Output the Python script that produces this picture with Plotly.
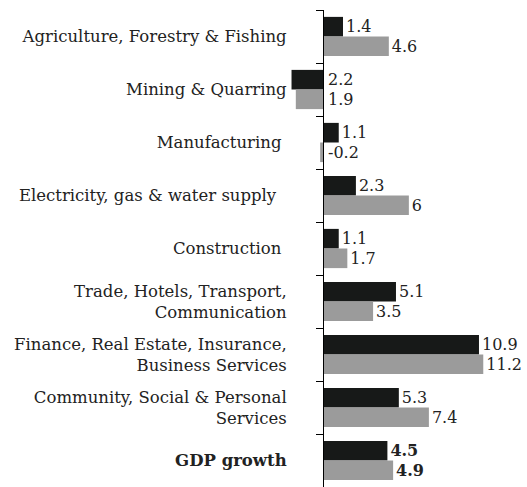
import plotly.graph_objects as go

categories = [
    "Agriculture, Forestry & Fishing",
    "Mining & Quarring",
    "Manufacturing\u00a0",
    "Electricity, gas & water supply\u00a0\u00a0",
    "Construction\u00a0",
    "Trade, Hotels, Transport,<br>Communication",
    "Finance, Real Estate, Insurance,<br>Business Services",
    "Community, Social & Personal<br>Services",
    "<b>GDP growth</b>",
]
series_a = [1.4, -2.2, 1.1, 2.3, 1.1, 5.1, 10.9, 5.3, 4.5]
series_b = [4.6, -1.9, -0.2, 6.0, 1.7, 3.5, 11.2, 7.4, 4.9]
labels_a = ["1.4", "2.2", "1.1", "2.3", "1.1", "5.1", "10.9", "5.3", "<b>4.5</b>"]
labels_b = ["4.6", "1.9", "-0.2", "6", "1.7", "3.5", "11.2", "7.4", "<b>4.9</b>"]

FONT = "DejaVu Serif"
TXT = "#222222"
BLACK = "#171918"
GRAY = "#9b9b9b"

W, H = 527, 487
ML, MR, MT, MB = 290, 2, 10, 0
ZERO_PX = 323
PX_PER_UNIT = 14.31
xmin = -(ZERO_PX - ML) / PX_PER_UNIT
xmax = xmin + (W - ML - MR) / PX_PER_UNIT
zero_pos = (0 - xmin) / (xmax - xmin)

fig = go.Figure()
for vals, labs, color, name in [
    (series_a, labels_a, BLACK, "Series A"),
    (series_b, labels_b, GRAY, "Series B"),
]:
    fig.add_trace(go.Bar(
        y=categories, x=vals, orientation="h", name=name,
        marker=dict(color=color, line=dict(width=0)),
        text=[l if v >= 0 else "" for v, l in zip(vals, labs)],
        textposition="outside", cliponaxis=False, constraintext="none",
        textfont=dict(family=FONT, size=16, color=TXT),
        hoverinfo="skip",
    ))

# labels for negative bars shown to the right of the zero line
for vals, labs, shift in [(series_a, labels_a, -10), (series_b, labels_b, 10)]:
    for cat, v, l in zip(categories, vals, labs):
        if v < 0:
            fig.add_annotation(x=0, y=cat, text=l, showarrow=False,
                               xanchor="left", yanchor="middle", xshift=3, yshift=-shift,
                               font=dict(family=FONT, size=16, color=TXT))

fig.update_layout(
    width=W, height=H,
    margin=dict(l=ML, r=MR, t=MT, b=MB),
    template="none",
    paper_bgcolor="white", plot_bgcolor="white",
    barmode="group", bargap=0.26, bargroupgap=0,
    showlegend=False,
    font=dict(family=FONT, size=16, color=TXT),
    xaxis=dict(visible=False, range=[xmin, xmax], showgrid=False, zeroline=False),
    yaxis=dict(
        type="category", autorange="reversed",
        anchor="free", position=zero_pos,
        showline=True, linecolor="black", linewidth=1,
        ticks="outside", ticklen=7, tickcolor="black", tickson="boundaries",
        ticklabelstandoff=33, showgrid=False, zeroline=False, automargin=False,
        tickfont=dict(family=FONT, size=16.5, color=TXT),
    ),
)

fig.write_html(
    "out.html",
    config={"displayModeBar": False},
    post_script="document.body.style.margin='0';document.body.style.overflow='hidden';",
)
